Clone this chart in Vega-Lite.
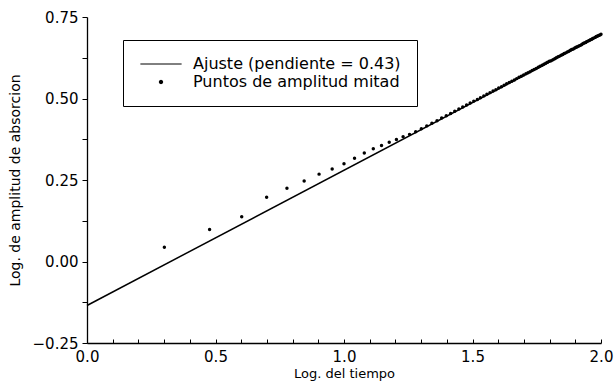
{
  "$schema": "https://vega.github.io/schema/vega-lite/v6.json",
  "width": 514,
  "height": 326,
  "autosize": "none",
  "padding": {"left": 87, "top": 17, "right": 15, "bottom": 43},
  "config": {
    "view": {"stroke": null},
    "font": "DejaVu Sans",
    "axis": {"grid": false, "domainColor": "black", "domainWidth": 1.3, "tickColor": "black", "tickWidth": 1, "labelColor": "black", "titleColor": "black", "labelFont": "DejaVu Sans", "titleFont": "DejaVu Sans", "labelFontSize": 15, "titleFontSize": 14, "titleFontWeight": "normal", "labelOverlap": false, "labelFlush": false, "labelBound": false}
  },
  "datasets": {
    "fit": [
      {"x": 0.0, "y": -0.135, "serie": "Ajuste (pendiente = 0.43)"},
      {"x": 2.0, "y": 0.695, "serie": "Ajuste (pendiente = 0.43)"}
    ],
    "pts": [
      {"x": 0.301, "y": 0.044}, {"x": 0.477, "y": 0.098}, {"x": 0.602, "y": 0.137}, {"x": 0.699, "y": 0.197},
      {"x": 0.778, "y": 0.225}, {"x": 0.845, "y": 0.247}, {"x": 0.903, "y": 0.268}, {"x": 0.954, "y": 0.284},
      {"x": 1.000, "y": 0.300}, {"x": 1.041, "y": 0.317}, {"x": 1.079, "y": 0.333}, {"x": 1.114, "y": 0.346},
      {"x": 1.146, "y": 0.356}, {"x": 1.176, "y": 0.366}, {"x": 1.204, "y": 0.374}, {"x": 1.230, "y": 0.383},
      {"x": 1.255, "y": 0.390}, {"x": 1.279, "y": 0.398}, {"x": 1.301, "y": 0.407}, {"x": 1.322, "y": 0.416},
      {"x": 1.342, "y": 0.424}, {"x": 1.362, "y": 0.432}, {"x": 1.380, "y": 0.440}, {"x": 1.398, "y": 0.447},
      {"x": 1.415, "y": 0.454}, {"x": 1.431, "y": 0.461}, {"x": 1.447, "y": 0.468}, {"x": 1.462, "y": 0.474},
      {"x": 1.477, "y": 0.480}, {"x": 1.491, "y": 0.486}, {"x": 1.505, "y": 0.492}, {"x": 1.519, "y": 0.497},
      {"x": 1.531, "y": 0.502}, {"x": 1.544, "y": 0.508}, {"x": 1.556, "y": 0.513}, {"x": 1.568, "y": 0.518},
      {"x": 1.580, "y": 0.523}, {"x": 1.591, "y": 0.527}, {"x": 1.602, "y": 0.532}, {"x": 1.613, "y": 0.536},
      {"x": 1.623, "y": 0.541}, {"x": 1.633, "y": 0.545}, {"x": 1.643, "y": 0.549}, {"x": 1.653, "y": 0.553},
      {"x": 1.663, "y": 0.557}, {"x": 1.672, "y": 0.561}, {"x": 1.681, "y": 0.565}, {"x": 1.690, "y": 0.568},
      {"x": 1.699, "y": 0.572}, {"x": 1.708, "y": 0.576}, {"x": 1.716, "y": 0.579}, {"x": 1.724, "y": 0.582},
      {"x": 1.732, "y": 0.586}, {"x": 1.740, "y": 0.589}, {"x": 1.748, "y": 0.592}, {"x": 1.756, "y": 0.596},
      {"x": 1.763, "y": 0.599}, {"x": 1.771, "y": 0.602}, {"x": 1.778, "y": 0.605}, {"x": 1.785, "y": 0.608},
      {"x": 1.792, "y": 0.611}, {"x": 1.799, "y": 0.614}, {"x": 1.806, "y": 0.616}, {"x": 1.813, "y": 0.619},
      {"x": 1.820, "y": 0.622}, {"x": 1.826, "y": 0.625}, {"x": 1.833, "y": 0.628}, {"x": 1.839, "y": 0.630},
      {"x": 1.845, "y": 0.633}, {"x": 1.851, "y": 0.635}, {"x": 1.857, "y": 0.638}, {"x": 1.863, "y": 0.640},
      {"x": 1.869, "y": 0.643}, {"x": 1.875, "y": 0.645}, {"x": 1.881, "y": 0.648}, {"x": 1.886, "y": 0.650},
      {"x": 1.892, "y": 0.652}, {"x": 1.898, "y": 0.655}, {"x": 1.903, "y": 0.657}, {"x": 1.908, "y": 0.659},
      {"x": 1.914, "y": 0.661}, {"x": 1.919, "y": 0.663}, {"x": 1.924, "y": 0.665}, {"x": 1.929, "y": 0.668},
      {"x": 1.934, "y": 0.670}, {"x": 1.940, "y": 0.672}, {"x": 1.944, "y": 0.674}, {"x": 1.949, "y": 0.676},
      {"x": 1.954, "y": 0.678}, {"x": 1.959, "y": 0.680}, {"x": 1.964, "y": 0.682}, {"x": 1.968, "y": 0.684},
      {"x": 1.973, "y": 0.686}, {"x": 1.978, "y": 0.688}, {"x": 1.982, "y": 0.690}, {"x": 1.987, "y": 0.692},
      {"x": 1.991, "y": 0.693}, {"x": 1.996, "y": 0.695}, {"x": 2.000, "y": 0.697}
    ]
  },
  "encoding": {
    "x": {
      "field": "x", "type": "quantitative",
      "scale": {"domain": [0, 2], "nice": false, "zero": false},
      "axis": {
        "title": "Log. del tiempo",
        "values": [0, 0.1, 0.2, 0.3, 0.4, 0.5, 0.6, 0.7, 0.8, 0.9, 1.0, 1.1, 1.2, 1.3, 1.4, 1.5, 1.6, 1.7, 1.8, 1.9, 2.0],
        "labelExpr": "abs(datum.value*2 - round(datum.value*2)) < 0.001 ? format(datum.value, '.1f') : ''",
        "tickSize": -4,
        "labelPadding": 10,
        "titlePadding": 3,
        "titleFontSize": 13
      }
    },
    "y": {
      "field": "y", "type": "quantitative",
      "scale": {"domain": [-0.25, 0.75], "nice": false, "zero": false},
      "axis": {
        "title": "Log. de amplitud de absorcion",
        "values": [-0.25, -0.125, 0, 0.125, 0.25, 0.375, 0.5, 0.625, 0.75],
        "labelExpr": "abs(datum.value*4 - round(datum.value*4)) < 0.001 ? format(datum.value, '.2f') : ''",
        "tickSize": 5,
        "labelPadding": 4,
        "titlePadding": 10
      }
    }
  },
  "layer": [
    {
      "data": {"name": "fit"},
      "mark": {"type": "line", "color": "black", "strokeWidth": 1.5},
      "encoding": {
        "color": {
          "field": "serie", "type": "nominal",
          "scale": {"domain": ["Ajuste (pendiente = 0.43)", "Puntos de amplitud mitad"], "range": ["black", "black"]},
          "legend": {
            "orient": "none", "legendX": 36, "legendY": 23, "title": null,
            "strokeColor": "black", "fillColor": "white", "padding": 16,
            "labelFontSize": 16, "labelFont": "DejaVu Sans", "labelColor": "black", "labelLimit": 0,
            "symbolSize": 16, "labelOffset": 38, "rowPadding": 2,
            "encode": {
              "symbols": {
                "update": {
                  "shape": {"signal": "datum.value === 'Ajuste (pendiente = 0.43)' ? 'stroke' : 'circle'"},
                  "size": {"signal": "datum.value === 'Ajuste (pendiente = 0.43)' ? 1700 : 12"},
                  "x": {"value": 22},
                  "fill": {"value": "black"},
                  "stroke": {"value": "black"},
                  "strokeWidth": {"value": 1},
                  "opacity": {"value": 1}
                }
              }
            }
          }
        }
      }
    },
    {
      "data": {"name": "pts"},
      "transform": [{"calculate": "'Puntos de amplitud mitad'", "as": "serie"}],
      "mark": {"type": "circle", "size": 12, "opacity": 1},
      "encoding": {
        "color": {"field": "serie", "type": "nominal"}
      }
    }
  ]
}
